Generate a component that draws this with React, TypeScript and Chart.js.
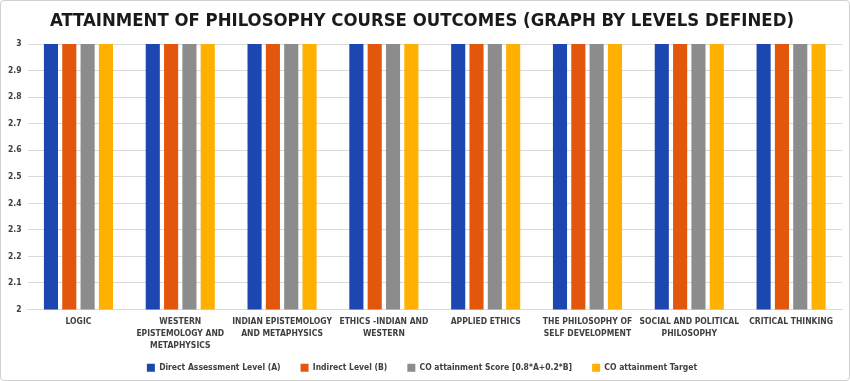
import React, { useEffect, useRef } from "react";
import { Chart, registerables } from "chart.js";

Chart.register(...registerables);

const categories: (string | string[])[] = [
  "LOGIC",
  ["WESTERN", "EPISTEMOLOGY AND", "METAPHYSICS"],
  ["INDIAN EPISTEMOLOGY", "AND METAPHYSICS"],
  ["ETHICS -INDIAN AND", "WESTERN"],
  "APPLIED ETHICS",
  ["THE PHILOSOPHY OF", "SELF DEVELOPMENT"],
  ["SOCIAL AND POLITICAL", "PHILOSOPHY"],
  "CRITICAL THINKING",
];

const directAssessment = [3, 3, 3, 3, 3, 3, 3, 3];
const indirectLevel = [3, 3, 3, 3, 3, 3, 3, 3];
const coScore = [3, 3, 3, 3, 3, 3, 3, 3];
const coTarget = [3, 3, 3, 3, 3, 3, 3, 3];

const seriesNames = [
  "Direct Assessment Level (A)",
  "Indirect Level (B)",
  "CO attainment Score [0.8*A+0.2*B]",
  "CO attainment Target",
];

const title = "ATTAINMENT OF PHILOSOPHY COURSE OUTCOMES (GRAPH BY LEVELS DEFINED)";

const FONT = "'Liberation Sans Narrow', 'DejaVu Sans Condensed', 'Liberation Sans', sans-serif";

export default function App() {
  const ref = useRef<HTMLCanvasElement | null>(null);

  useEffect(() => {
    document.body.style.margin = "0";
    if (!ref.current) return;
    const colors = ["#1C46B0", "#E2570C", "#8C8C8C", "#FFB000"];
    const values = [directAssessment, indirectLevel, coScore, coTarget];
    const legendShrink = {
      id: "legendShrink",
      beforeInit(chart: any) {
        const lg = chart.legend;
        if (!lg) return;
        const orig = lg.fit.bind(lg);
        lg.fit = function () {
          orig();
          this.height -= 10;
        };
      },
      afterLayout(chart: any) {
        const lg = chart.legend;
        if (!lg) return;
        lg.top -= 8;
        lg.bottom -= 8;
      },
    };
    const chart = new Chart(ref.current, {
      type: "bar",
      data: {
        labels: categories,
        datasets: values.map((v, i) => ({
          label: seriesNames[i],
          data: v,
          backgroundColor: colors[i],
          borderWidth: 0,
          categoryPercentage: 0.72,
          barPercentage: 0.77,
        })),
      },
      plugins: [legendShrink],
      options: {
        responsive: false,
        animation: false,
        maintainAspectRatio: false,
        layout: { padding: { left: 1, right: 7, top: 0, bottom: 0 } },
        plugins: {
          title: {
            display: true,
            text: title,
            color: "#1a1a1a",
            font: { family: FONT, size: 18.4, weight: "bold" },
            padding: { top: 9, bottom: 12 },
          },
          legend: {
            position: "bottom",
            labels: {
              boxWidth: 8,
              boxHeight: 8,
              color: "#404040",
              font: { family: FONT, size: 8.5, weight: "bold" },
              padding: 20,
            },
          },
          tooltip: { enabled: false },
        },
        scales: {
          x: {
            grid: { display: false, drawTicks: false },
            border: { color: "#d9d9d9" },
            afterFit: (scale: any) => {
              scale.height = 42;
            },
            ticks: {
              color: "#404040",
              font: { family: FONT, size: 8.5, weight: "bold", lineHeight: 1.41 },
              maxRotation: 0,
              autoSkip: false,
              padding: 6,
            },
          },
          y: {
            min: 2,
            max: 3,
            grid: { color: "#d9d9d9", drawTicks: false },
            border: { display: false },
            ticks: {
              stepSize: 0.1,
              color: "#404040",
              font: { family: FONT, size: 8.5, weight: "bold" },
              padding: 6,
              callback: (v: any) => String(Math.round(Number(v) * 10) / 10),
            },
          },
        },
      },
    });
    return () => chart.destroy();
  }, []);

  return (
    <div
      style={{
        width: 850,
        height: 381,
        boxSizing: "border-box",
        border: "1px solid #d0d0d0",
        borderRadius: 4,
        background: "#fff",
      }}
    >
      <canvas ref={ref} width={848} height={379} />
    </div>
  );
}
